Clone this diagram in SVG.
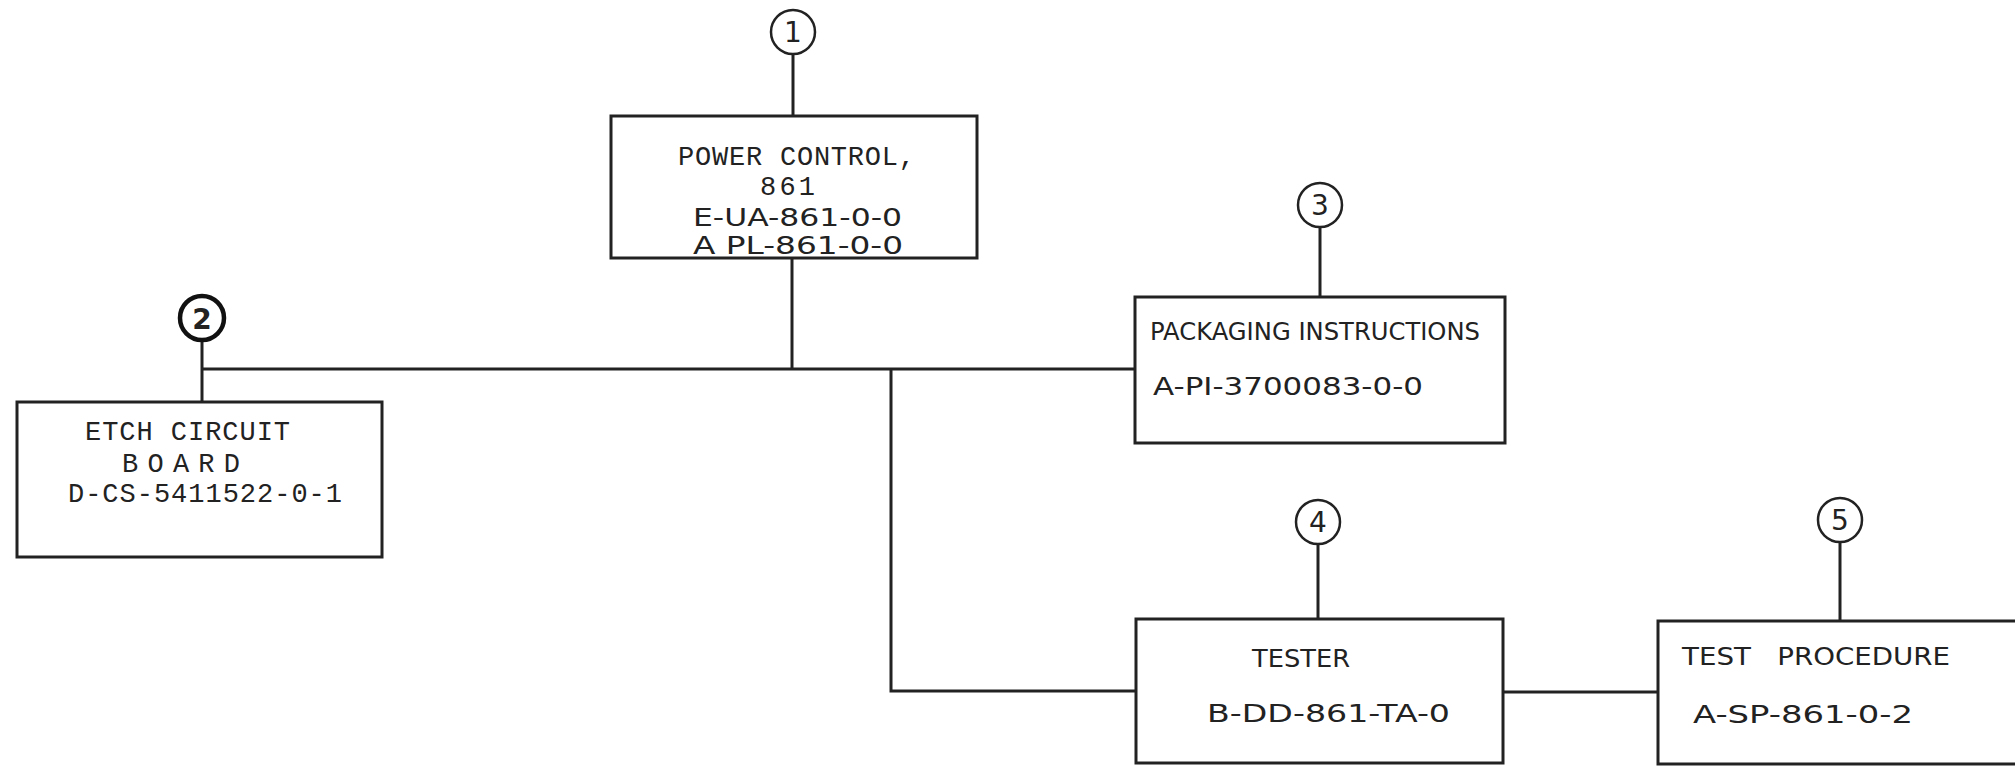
<svg xmlns="http://www.w3.org/2000/svg" width="2015" height="766" viewBox="0 0 2015 766">
<style>
.box{fill:none;stroke:#222;stroke-width:3}
.ln{fill:none;stroke:#222;stroke-width:3}
.bal{fill:none;stroke:#222;stroke-width:2.5}
.tw{font-family:"Liberation Mono",monospace;font-size:27px;fill:#222}
.le{font-family:"DejaVu Sans","Liberation Sans",sans-serif;font-size:25px;fill:#222;white-space:pre}
.num{font-family:"DejaVu Sans","Liberation Sans",sans-serif;font-size:28px;fill:#222;text-anchor:middle}
</style>
<rect width="2015" height="766" fill="#fff"/>
<g id="connectors">
<line class="ln" x1="793" y1="54" x2="793" y2="116"/>
<line class="ln" x1="792" y1="258" x2="792" y2="369"/>
<line class="ln" x1="202" y1="341" x2="202" y2="402"/>
<polyline class="ln" points="202,369 1135,369"/>
<line class="ln" x1="1320" y1="227" x2="1320" y2="297"/>
<polyline class="ln" points="891,369 891,691 1136,691"/>
<line class="ln" x1="1318" y1="544" x2="1318" y2="619"/>
<line class="ln" x1="1503" y1="692" x2="1658" y2="692"/>
<line class="ln" x1="1840" y1="542" x2="1840" y2="621"/>
</g>
<g id="balloon1">
<circle class="bal" cx="793" cy="32" r="22"/>
<text class="num" x="793" y="42">1</text>
</g>
<g id="balloon2">
<circle fill="none" stroke="#111" stroke-width="4.5" cx="202" cy="318" r="22"/>
<text class="num" x="202" y="329" font-weight="bold" font-size="30">2</text>
</g>
<g id="balloon3">
<circle class="bal" cx="1320" cy="205" r="22"/>
<text class="num" x="1320" y="215">3</text>
</g>
<g id="balloon4">
<circle class="bal" cx="1318" cy="522" r="22"/>
<text class="num" x="1318" y="532">4</text>
</g>
<g id="balloon5">
<circle class="bal" cx="1840" cy="520" r="22"/>
<text class="num" x="1840" y="530">5</text>
</g>
<g id="node1">
<rect class="box" x="611" y="116" width="366" height="142"/>
<text class="tw" x="678" y="165" textLength="237" lengthAdjust="spacing">POWER CONTROL,</text>
<text class="tw" x="760" y="195" textLength="55" lengthAdjust="spacing">861</text>
<text class="le" x="693" y="226" font-size="21" textLength="209" lengthAdjust="spacingAndGlyphs">E-UA-861-0-0</text>
<text class="le" x="693" y="254" font-size="21" textLength="210" lengthAdjust="spacingAndGlyphs">A PL-861-0-0</text>
</g>
<g id="node2">
<rect class="box" x="17" y="402" width="365" height="155"/>
<text class="tw" x="85" y="440" textLength="205" lengthAdjust="spacing">ETCH CIRCUIT</text>
<text class="tw" x="122" y="472" font-size="29" textLength="118" lengthAdjust="spacing">BOARD</text>
<text class="tw" x="68" y="502" textLength="274" lengthAdjust="spacing">D-CS-5411522-0-1</text>
</g>
<g id="node3">
<rect class="box" x="1135" y="297" width="370" height="146"/>
<text class="le" x="1150" y="340" textLength="330" lengthAdjust="spacingAndGlyphs">PACKAGING INSTRUCTIONS</text>
<text class="le" x="1153" y="395" textLength="270" lengthAdjust="spacingAndGlyphs">A-PI-3700083-0-0</text>
</g>
<g id="node4">
<rect class="box" x="1136" y="619" width="367" height="144"/>
<text class="le" x="1252" y="667" textLength="98" lengthAdjust="spacingAndGlyphs">TESTER</text>
<text class="le" x="1207" y="722" textLength="243" lengthAdjust="spacingAndGlyphs">B-DD-861-TA-0</text>
</g>
<g id="node5">
<path class="box" d="M2016,621 L1658,621 L1658,764 L2016,764"/>
<text class="le" x="1682" y="665" textLength="268" lengthAdjust="spacingAndGlyphs">TEST   PROCEDURE</text>
<text class="le" x="1693" y="723" textLength="220" lengthAdjust="spacingAndGlyphs">A-SP-861-0-2</text>
</g>
</svg>
